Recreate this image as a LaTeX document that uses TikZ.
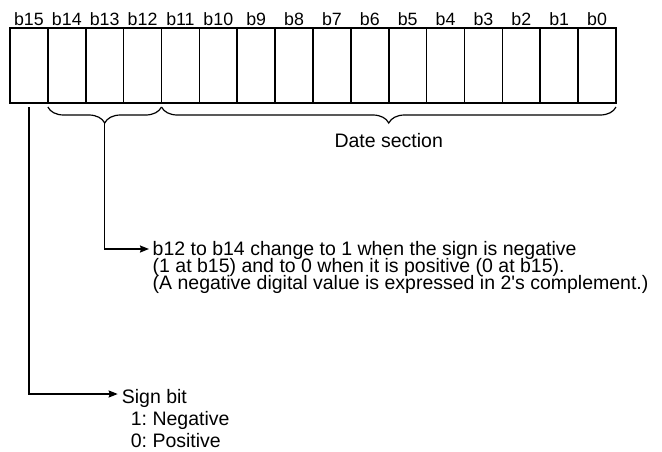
\documentclass[tikz,border=0pt]{standalone}
\usepackage{fontspec}
\setmainfont{Liberation Sans}[Ligatures=TeXOff]
\usetikzlibrary{arrows.meta,decorations.pathreplacing,positioning}
\frenchspacing
\begin{document}
\begin{tikzpicture}[x=1pt,y=-1pt,
  cell/.style={draw, line width=1.6pt, minimum width=37.875pt, minimum height=75pt, inner sep=0pt, outer sep=0pt},
  bitlbl/.style={font=\fontsize{17.8}{20}\selectfont, inner sep=0pt, anchor=base},
  txt/.style={font={\fontsize{19.5}{16.6}\selectfont\lineskiplimit=-30pt}, inner sep=0pt, align=left, anchor=base west},
  brc/.style={decorate, decoration={brace, mirror, amplitude=16pt}, line width=1.2pt},
  conn/.style={line width=1.6pt, -{Stealth[length=9pt,width=7pt,inset=1pt]}}]
\useasboundingbox (0,0) rectangle (662,451);
% register cells with bit numbers
\foreach \i in {0,...,15} {
    \node[cell] (c\i) at ({616-37.875*(\i+0.5)},65.5) {};
    \node[bitlbl] (b\i) at ([yshift=2.5pt]c\i.north) {b\i};
}
% braces under the register
\draw[brc] ([yshift=-4pt]c14.south west) -- ([yshift=-4pt]c12.south east)
    coordinate[midway, yshift=-16pt] (tip12);
\draw[brc] ([yshift=-4pt]c11.south west) -- ([yshift=-4pt]c0.south east)
    coordinate[midway, yshift=-16pt] (tipD);
\node[txt, anchor=base] (date) at (tipD |- 0,147) {Date section};
% explanations (base = last line)
\node[txt] (note) at (152.5,289) {b12 to b14 change to 1 when the sign is negative\\(1 at b15) and to 0 when it is positive (0 at b15).\\(A negative digital value is expressed in 2's complement.)};
\node[txt, font={\fontsize{19.5}{22}\selectfont\lineskiplimit=-30pt}] (sign) at (121.7,447) {Sign bit\\\hspace*{9pt}1: Negative\\\hspace*{9pt}0: Positive};
\coordinate (s15) at ([yshift=-4pt]c15.south);
\draw[conn] (tip12) |- ([xshift=-3.5pt,yshift=40pt]note.base west);
\draw[conn] (s15) |- ([xshift=-4pt,yshift=53pt]sign.base west);
\end{tikzpicture}
\end{document}
